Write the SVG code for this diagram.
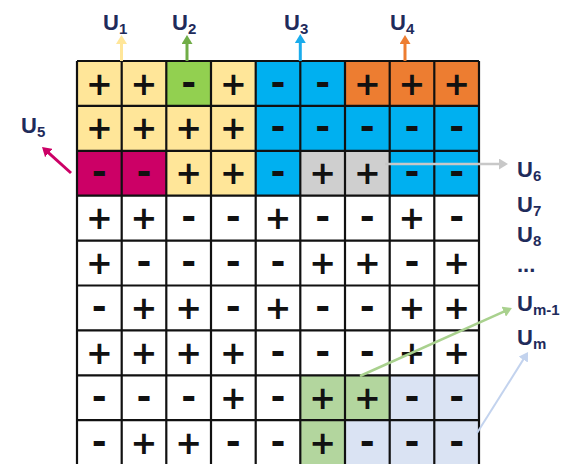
<svg xmlns="http://www.w3.org/2000/svg" width="566" height="464" viewBox="0 0 566 464">
  <style>
    .y{fill:#FFE699}.g{fill:#92D050}.b{fill:#00B0F0}.o{fill:#ED7D31}
    .mg{fill:#CC0066}.gr{fill:#CFCFCF}.lg{fill:#B3D69E}.lb{fill:#DAE3F3}
    .grid{fill:none;stroke:#111;stroke-width:2.2}
    .s{font-family:"DejaVu Sans",sans-serif;font-weight:bold;font-size:32px;fill:#111;text-anchor:middle}
    .m{font-size:36px}
    .lbl{font-family:"Liberation Sans",Arial,sans-serif;font-weight:bold;font-size:22px;fill:#1F2B5B}
    .sub{font-size:15px}
    .arr{fill:none;stroke-width:3}
  </style>
  <defs>
    <marker id="ah-y" viewBox="0 0 9 11" markerWidth="9" markerHeight="11" refX="5" refY="5.5" orient="auto" markerUnits="userSpaceOnUse"><path d="M0,0L9,5.5L0,11z" fill="#FFE699"/></marker>
    <marker id="ah-g" viewBox="0 0 9 11" markerWidth="9" markerHeight="11" refX="5" refY="5.5" orient="auto" markerUnits="userSpaceOnUse"><path d="M0,0L9,5.5L0,11z" fill="#70AD47"/></marker>
    <marker id="ah-b" viewBox="0 0 9 11" markerWidth="9" markerHeight="11" refX="5" refY="5.5" orient="auto" markerUnits="userSpaceOnUse"><path d="M0,0L9,5.5L0,11z" fill="#1AACEC"/></marker>
    <marker id="ah-o" viewBox="0 0 9 11" markerWidth="9" markerHeight="11" refX="5" refY="5.5" orient="auto" markerUnits="userSpaceOnUse"><path d="M0,0L9,5.5L0,11z" fill="#ED7D31"/></marker>
    <marker id="ah-mg" viewBox="0 0 9 11" markerWidth="9" markerHeight="11" refX="5" refY="5.5" orient="auto" markerUnits="userSpaceOnUse"><path d="M0,0L9,5.5L0,11z" fill="#CC0066"/></marker>
    <marker id="ah-gr" viewBox="0 0 9 11" markerWidth="9" markerHeight="11" refX="5" refY="5.5" orient="auto" markerUnits="userSpaceOnUse"><path d="M0,0L9,5.5L0,11z" fill="#C8C8C8"/></marker>
    <marker id="ah-lg" viewBox="0 0 9 11" markerWidth="9" markerHeight="11" refX="5" refY="5.5" orient="auto" markerUnits="userSpaceOnUse"><path d="M0,0L9,5.5L0,11z" fill="#A9D18E"/></marker>
    <marker id="ah-lb" viewBox="0 0 9 11" markerWidth="9" markerHeight="11" refX="5" refY="5.5" orient="auto" markerUnits="userSpaceOnUse"><path d="M0,0L9,5.5L0,11z" fill="#C3D3EE"/></marker>
  </defs>

  <rect width="566" height="464" fill="#fff"/>

  <!-- cell fills -->
  <g id="fills">
    <rect class="y" x="77" y="61" width="89.3" height="44.9"/>
    <rect class="g" x="166.3" y="61" width="44.7" height="44.9"/>
    <rect class="y" x="211" y="61" width="44.7" height="44.9"/>
    <rect class="b" x="255.7" y="61" width="89.3" height="44.9"/>
    <rect class="o" x="345" y="61" width="134" height="44.9"/>
    <rect class="y" x="77" y="105.9" width="178.7" height="44.9"/>
    <rect class="b" x="255.7" y="105.9" width="223.3" height="44.9"/>
    <rect class="mg" x="77" y="150.8" width="89.3" height="44.9"/>
    <rect class="y" x="166.3" y="150.8" width="89.4" height="44.9"/>
    <rect class="b" x="255.7" y="150.8" width="44.6" height="44.9"/>
    <rect class="gr" x="300.3" y="150.8" width="89.4" height="44.9"/>
    <rect class="b" x="389.7" y="150.8" width="89.3" height="44.9"/>
    <rect class="lg" x="300.3" y="375.3" width="89.4" height="44.9"/>
    <rect class="lb" x="389.7" y="375.3" width="89.3" height="44.9"/>
    <rect class="lg" x="300.3" y="420.2" width="44.7" height="46"/>
    <rect class="lb" x="345" y="420.2" width="134" height="46"/>
  </g>

  <!-- grid lines -->
  <path class="grid" d="M77,61V466M121.7,61V466M166.3,61V466M211,61V466M255.7,61V466M300.3,61V466M345,61V466M389.7,61V466M434.3,61V466M479,61V466
    M77,61H479M77,105.9H479M77,150.8H479M77,195.7H479M77,240.6H479M77,285.5H479M77,330.4H479M77,375.3H479M77,420.2H479"/>

  <!-- sign rows -->
  <g id="row-1">
    <text class="s" x="99.3" y="94.5">+</text><text class="s" x="144" y="94.5">+</text><text class="s m" x="188.7" y="94.5">-</text>
    <text class="s" x="233.3" y="94.5">+</text><text class="s m" x="278" y="94.5">-</text><text class="s m" x="322.7" y="94.5">-</text>
    <text class="s" x="367.3" y="94.5">+</text><text class="s" x="412" y="94.5">+</text><text class="s" x="456.7" y="94.5">+</text>
  </g>
  <g id="row-2">
    <text class="s" x="99.3" y="139.4">+</text><text class="s" x="144" y="139.4">+</text><text class="s" x="188.7" y="139.4">+</text>
    <text class="s" x="233.3" y="139.4">+</text><text class="s m" x="278" y="139.4">-</text><text class="s m" x="322.7" y="139.4">-</text>
    <text class="s m" x="367.3" y="139.4">-</text><text class="s m" x="412" y="139.4">-</text><text class="s m" x="456.7" y="139.4">-</text>
  </g>
  <g id="row-3">
    <text class="s m" x="99.3" y="184.3">-</text><text class="s m" x="144" y="184.3">-</text><text class="s" x="188.7" y="184.3">+</text>
    <text class="s" x="233.3" y="184.3">+</text><text class="s m" x="278" y="184.3">-</text><text class="s" x="322.7" y="184.3">+</text>
    <text class="s" x="367.3" y="184.3">+</text><text class="s m" x="412" y="184.3">-</text><text class="s m" x="456.7" y="184.3">-</text>
  </g>
  <g id="row-4">
    <text class="s" x="99.3" y="229.2">+</text><text class="s" x="144" y="229.2">+</text><text class="s m" x="188.7" y="229.2">-</text>
    <text class="s m" x="233.3" y="229.2">-</text><text class="s" x="278" y="229.2">+</text><text class="s m" x="322.7" y="229.2">-</text>
    <text class="s m" x="367.3" y="229.2">-</text><text class="s" x="412" y="229.2">+</text><text class="s m" x="456.7" y="229.2">-</text>
  </g>
  <g id="row-5">
    <text class="s" x="99.3" y="274.1">+</text><text class="s m" x="144" y="274.1">-</text><text class="s m" x="188.7" y="274.1">-</text>
    <text class="s m" x="233.3" y="274.1">-</text><text class="s m" x="278" y="274.1">-</text><text class="s" x="322.7" y="274.1">+</text>
    <text class="s" x="367.3" y="274.1">+</text><text class="s m" x="412" y="274.1">-</text><text class="s" x="456.7" y="274.1">+</text>
  </g>
  <g id="row-6">
    <text class="s m" x="99.3" y="319">-</text><text class="s" x="144" y="319">+</text><text class="s" x="188.7" y="319">+</text>
    <text class="s m" x="233.3" y="319">-</text><text class="s" x="278" y="319">+</text><text class="s m" x="322.7" y="319">-</text>
    <text class="s m" x="367.3" y="319">-</text><text class="s" x="412" y="319">+</text><text class="s" x="456.7" y="319">+</text>
  </g>
  <g id="row-7">
    <text class="s" x="99.3" y="363.9">+</text><text class="s" x="144" y="363.9">+</text><text class="s" x="188.7" y="363.9">+</text>
    <text class="s" x="233.3" y="363.9">+</text><text class="s m" x="278" y="363.9">-</text><text class="s m" x="322.7" y="363.9">-</text>
    <text class="s m" x="367.3" y="363.9">-</text><text class="s" x="412" y="363.9">+</text><text class="s" x="456.7" y="363.9">+</text>
  </g>
  <g id="row-8">
    <text class="s m" x="99.3" y="408.8">-</text><text class="s m" x="144" y="408.8">-</text><text class="s m" x="188.7" y="408.8">-</text>
    <text class="s" x="233.3" y="408.8">+</text><text class="s m" x="278" y="408.8">-</text><text class="s" x="322.7" y="408.8">+</text>
    <text class="s" x="367.3" y="408.8">+</text><text class="s m" x="412" y="408.8">-</text><text class="s m" x="456.7" y="408.8">-</text>
  </g>
  <g id="row-9">
    <text class="s m" x="99.3" y="453.7">-</text><text class="s" x="144" y="453.7">+</text><text class="s" x="188.7" y="453.7">+</text>
    <text class="s m" x="233.3" y="453.7">-</text><text class="s m" x="278" y="453.7">-</text><text class="s" x="322.7" y="453.7">+</text>
    <text class="s m" x="367.3" y="453.7">-</text><text class="s m" x="412" y="453.7">-</text><text class="s m" x="456.7" y="453.7">-</text>
  </g>

  <!-- connectors -->
  <g id="connectors" class="arr">
    <line x1="121.5" y1="61" x2="121.5" y2="39" stroke="#FFE699" marker-end="url(#ah-y)"/>
    <line x1="187" y1="61" x2="187" y2="39" stroke="#70AD47" marker-end="url(#ah-g)"/>
    <line x1="300.3" y1="61" x2="300.3" y2="38" stroke="#1AACEC" marker-end="url(#ah-b)"/>
    <line x1="405" y1="61" x2="405" y2="39" stroke="#ED7D31" marker-end="url(#ah-o)"/>
    <line x1="71" y1="173" x2="45" y2="149.7" stroke="#CC0066" marker-end="url(#ah-mg)"/>
    <line x1="385" y1="164" x2="504" y2="164" stroke="#C8C8C8" stroke-width="2.5" marker-end="url(#ah-gr)"/>
    <line x1="360" y1="376" x2="508.3" y2="309.6" stroke="#A9D18E" stroke-width="2.5" marker-end="url(#ah-lg)"/>
    <line x1="477" y1="433" x2="525.9" y2="355.4" stroke="#C3D3EE" stroke-width="2" marker-end="url(#ah-lb)"/>
  </g>

  <!-- vector labels -->
  <g id="u1"><text class="lbl" x="103" y="30">U<tspan class="sub" dy="4">1</tspan></text></g>
  <g id="u2"><text class="lbl" x="172" y="30">U<tspan class="sub" dy="4">2</tspan></text></g>
  <g id="u3"><text class="lbl" x="284" y="30">U<tspan class="sub" dy="4">3</tspan></text></g>
  <g id="u4"><text class="lbl" x="390" y="30">U<tspan class="sub" dy="4">4</tspan></text></g>
  <g id="u5"><text class="lbl" x="21" y="133">U<tspan class="sub" dy="4">5</tspan></text></g>
  <g id="u6"><text class="lbl" x="517" y="177">U<tspan class="sub" dy="4">6</tspan></text></g>
  <g id="u7"><text class="lbl" x="517" y="212">U<tspan class="sub" dy="4">7</tspan></text></g>
  <g id="u8"><text class="lbl" x="517" y="242">U<tspan class="sub" dy="4">8</tspan></text></g>
  <g id="u-dots"><text class="lbl" x="517" y="272">...</text></g>
  <g id="u-m1"><text class="lbl" x="517" y="311">U<tspan class="sub" dy="4">m-1</tspan></text></g>
  <g id="u-m"><text class="lbl" x="517" y="345">U<tspan class="sub" dy="4">m</tspan></text></g>
</svg>
